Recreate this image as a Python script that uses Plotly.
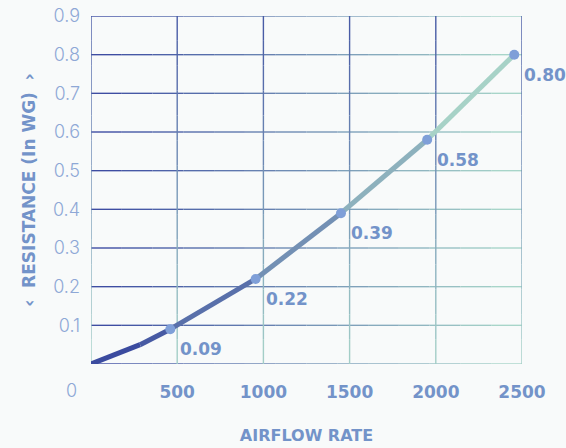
import plotly.graph_objects as go

# Airflow vs. resistance readings
airflow = [0, 285, 460, 955, 1450, 1950, 2455]
resistance = [0.0, 0.05, 0.09, 0.22, 0.39, 0.58, 0.80]
marked = [2, 3, 4, 5, 6]          # readings that get a dot and a value label

x_ticks = [500, 1000, 1500, 2000, 2500]
y_ticks = [0.1, 0.2, 0.3, 0.4, 0.5, 0.6, 0.7, 0.8, 0.9]

BG = "#f8fafa"
BLUE = (58, 72, 160)
GREEN = (178, 226, 205)
LABEL = "#7393c9"
TICK = "#8ea8d6"
BOLD = "DejaVu Sans"
LIGHT = "Inter"


def mix(c1, c2, t):
    r, g, b = (round(a + (b_ - a) * t) for a, b_ in zip(c1, c2))
    return f"rgb({r},{g},{b})"


fig = go.Figure()

# grid drawn as short pieces so each line fades from blue to green
shapes = []
pieces = 14
for yv in [0.0] + y_ticks:
    for i in range(pieces):
        t0, t1 = i / pieces, (i + 1) / pieces
        shapes.append(dict(type="line", xref="x", yref="y",
                           x0=2500 * t0, x1=2500 * t1, y0=yv, y1=yv,
                           line=dict(color=mix(BLUE, GREEN, (t0 + t1) / 2 * 0.95), width=1.4),
                           layer="below"))
for xv in [0] + x_ticks:
    for i in range(pieces):
        t0, t1 = i / pieces, (i + 1) / pieces
        shapes.append(dict(type="line", xref="x", yref="y",
                           x0=xv, x1=xv, y0=0.9 * (1 - t0), y1=0.9 * (1 - t1),
                           line=dict(color=mix(BLUE, GREEN, 0.1 + 0.8 * (t0 + t1) / 2), width=1.4),
                           layer="below"))

# curve, one piece per interval so the colour shifts along it
n = len(airflow) - 1
for i in range(n):
    t = (airflow[i] + airflow[i + 1]) / 2 / airflow[-1]
    fig.add_trace(go.Scatter(
        x=airflow[i:i + 2], y=resistance[i:i + 2], mode="lines",
        line=dict(color=mix((52, 66, 156), (180, 226, 204), t), width=5),
        hoverinfo="skip", showlegend=False))

fig.add_trace(go.Scatter(
    x=[airflow[i] for i in marked], y=[resistance[i] for i in marked],
    mode="markers", marker=dict(color="#7f9fd8", size=10),
    showlegend=False))

annotations = []
for i in marked:
    annotations.append(dict(x=airflow[i], y=resistance[i], xref="x", yref="y",
                            text=f"{resistance[i]:.2f}", showarrow=False,
                            xanchor="left", yanchor="middle", xshift=8, yshift=-20,
                            font=dict(family=BOLD, size=17, color=LABEL, weight=700)))
annotations.append(dict(x=0, y=0, xref="x", yref="y", text="0", showarrow=False,
                        xanchor="right", yanchor="middle", xshift=-12, yshift=-26,
                        font=dict(family=LIGHT, size=18, color=TICK, weight=300)))

fig.update_layout(
    width=566, height=448,
    margin=dict(l=91, r=43.5, t=16, b=84),
    paper_bgcolor=BG, plot_bgcolor=BG,
    shapes=shapes, annotations=annotations,
    xaxis=dict(range=[0, 2500], tickvals=x_ticks, showgrid=False, zeroline=False,
               showline=False, ticks="", ticklabelstandoff=16, automargin=False,
               tickfont=dict(family=BOLD, size=17, color=LABEL, weight=700),
               title=dict(text="AIRFLOW RATE", standoff=28,
                          font=dict(family=BOLD, size=16, color=LABEL, weight=700))),
    yaxis=dict(range=[0, 0.9], tickvals=y_ticks, showgrid=False, zeroline=False,
               showline=False, ticks="", ticklabelstandoff=10, automargin=False,
               tickfont=dict(family=LIGHT, size=18, color=TICK, weight=300),
               title=dict(text="<b>‹</b>  RESISTANCE (In WG)  <b>›</b>", standoff=12,
                          font=dict(family=BOLD, size=17, color=LABEL, weight=700))),
)

fig.write_html("out.html")
